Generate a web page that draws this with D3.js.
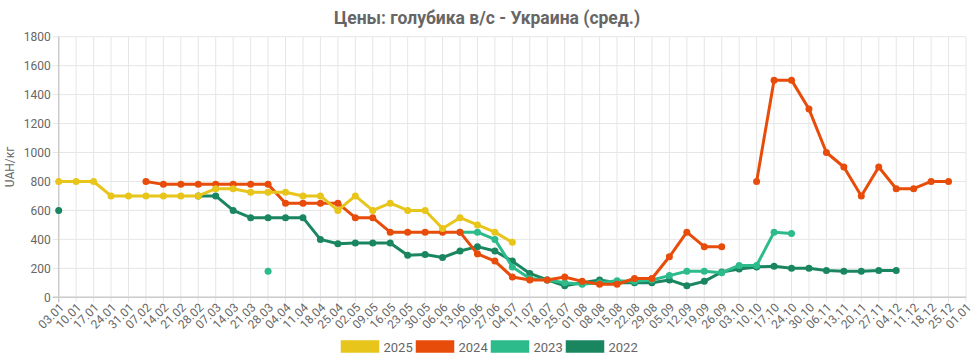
<!DOCTYPE html>
<html>
<head>
<meta charset="utf-8">
<script src="https://cdn.jsdelivr.net/npm/d3@7"></script>
<style>
  body { margin: 0; background: #fff; }
  svg { display: block; font-family: Roboto, "Open Sans", sans-serif; }
</style>
</head>
<body>
<svg id="chart" width="974" height="361"></svg>
<script>
const categories = ["03.01","10.01","17.01","24.01","31.01","07.02","14.02","21.02","28.02","07.03","14.03","21.03","28.03","04.04","11.04","18.04","25.04","02.05","09.05","16.05","23.05","30.05","06.06","13.06","20.06","27.06","04.07","11.07","18.07","25.07","01.08","08.08","15.08","22.08","29.08","05.09","12.09","19.09","26.09","03.10","10.10","17.10","24.10","30.10","06.11","13.11","20.11","27.11","04.12","11.12","18.12","25.12","01.01"];

const yTicks = [0,200,400,600,800,1000,1200,1400,1600,1800];

const s2025 = [800,800,800,700,700,700,700,700,700,750,750,725,725,725,700,700,600,700,600,650,600,600,475,550,500,450,380,null,null,null,null,null,null,null,null,null,null,null,null,null,null,null,null,null,null,null,null,null,null,null,null,null,null];
const s2024 = [null,null,null,null,null,800,780,780,780,780,780,780,780,650,650,650,650,550,550,450,450,450,450,450,300,250,140,120,120,140,110,90,90,130,130,280,450,350,350,null,800,1500,1500,1300,1000,900,700,900,750,750,800,800,null];
const s2023 = [null,null,null,null,null,null,null,null,null,null,null,null,180,null,null,null,null,null,null,null,null,null,null,450,450,400,210,130,120,100,90,100,115,110,120,150,180,180,170,220,220,450,440,null,null,null,null,null,null,null,null,null,null];
const s2022 = [600,null,null,null,null,null,null,null,700,700,600,550,550,550,550,400,370,375,375,375,290,295,275,320,350,320,250,165,120,80,100,120,100,100,100,120,80,110,175,195,210,215,200,200,185,180,180,185,185,null,null,null,null];

const seriesNames = ["2025","2024","2023","2022"];
const seriesColors = ["#e8c51a","#e84c0a","#2dbb8c","#1a8660"];
const seriesData = [s2025, s2024, s2023, s2022];

const svg = d3.select("#chart");
const pLeft = 58.7, pRight = 966, pTop = 36.7, pBottom = 297.3;

const x = d3.scalePoint().domain(categories).range([pLeft, pRight]);
const y = d3.scaleLinear().domain([0, 1800]).range([pBottom, pTop]);

// grid
const grid = svg.append("g");
grid.selectAll("line.v").data(categories).join("line")
  .attr("class", "v")
  .attr("x1", d => x(d)).attr("x2", d => x(d))
  .attr("y1", pTop).attr("y2", pBottom + 5)
  .attr("stroke", "#e6e6e6").attr("stroke-width", 1);
grid.selectAll("line.h").data(yTicks).join("line")
  .attr("class", "h")
  .attr("x1", pLeft - 6).attr("x2", pRight)
  .attr("y1", d => y(d)).attr("y2", d => y(d))
  .attr("stroke", "#e6e6e6").attr("stroke-width", 1);
// axis lines
svg.append("line").attr("x1", pLeft).attr("x2", pLeft).attr("y1", pTop).attr("y2", pBottom + 5)
  .attr("stroke", "#cccccc").attr("stroke-width", 1.5);
svg.append("line").attr("x1", pLeft - 6).attr("x2", pRight).attr("y1", pBottom).attr("y2", pBottom)
  .attr("stroke", "#cccccc").attr("stroke-width", 1.5);

// y tick labels
svg.append("g").selectAll("text").data(yTicks).join("text")
  .attr("x", pLeft - 8).attr("y", d => y(d)).attr("dy", "0.35em")
  .attr("text-anchor", "end").attr("font-size", 12).attr("fill", "#666")
  .text(d => d);

// x tick labels
svg.append("g").selectAll("text").data(categories).join("text")
  .attr("transform", d => `translate(${x(d) + 3},${pBottom + 8}) rotate(-45)`)
  .attr("text-anchor", "end").attr("dy", "0.35em")
  .attr("font-size", 12).attr("fill", "#666")
  .text(d => d);

// y axis title
svg.append("text")
  .attr("transform", `translate(14,${(pTop + pBottom) / 2}) rotate(-90)`)
  .attr("text-anchor", "middle").attr("font-size", 12).attr("fill", "#666")
  .text("UAH/кг");

// title
svg.append("text")
  .attr("x", 487).attr("y", 24).attr("text-anchor", "middle")
  .attr("font-size", 17.5).attr("font-weight", "bold").attr("fill", "#666")
  .text("Цены: голубика в/с - Украина (сред.)");

// series: draw last dataset first so 2025 is on top
const line = d3.line()
  .defined(d => d.v !== null)
  .x(d => x(d.c)).y(d => y(d.v));

for (let i = seriesData.length - 1; i >= 0; i--) {
  const pts = categories.map((c, j) => ({ c, v: seriesData[i][j] }));
  const g = svg.append("g");
  g.append("path").datum(pts).attr("d", line)
    .attr("fill", "none").attr("stroke", seriesColors[i])
    .attr("stroke-width", 3).attr("stroke-linejoin", "round");
  g.selectAll("circle").data(pts.filter(d => d.v !== null)).join("circle")
    .attr("cx", d => x(d.c)).attr("cy", d => y(d.v)).attr("r", 3.5)
    .attr("fill", seriesColors[i]);
}

// legend
const lg = svg.append("g");
seriesNames.forEach((n, i) => {
  const lx = 340.5 + i * 75;
  lg.append("rect").attr("x", lx).attr("y", 340).attr("width", 39).attr("height", 13)
    .attr("fill", seriesColors[i]).attr("stroke", "#fff").attr("stroke-width", 0.5);
  lg.append("text").attr("x", lx + 43).attr("y", 347).attr("dy", "0.35em")
    .attr("font-size", 13).attr("fill", "#666").text(n);
});
</script>
</body>
</html>
